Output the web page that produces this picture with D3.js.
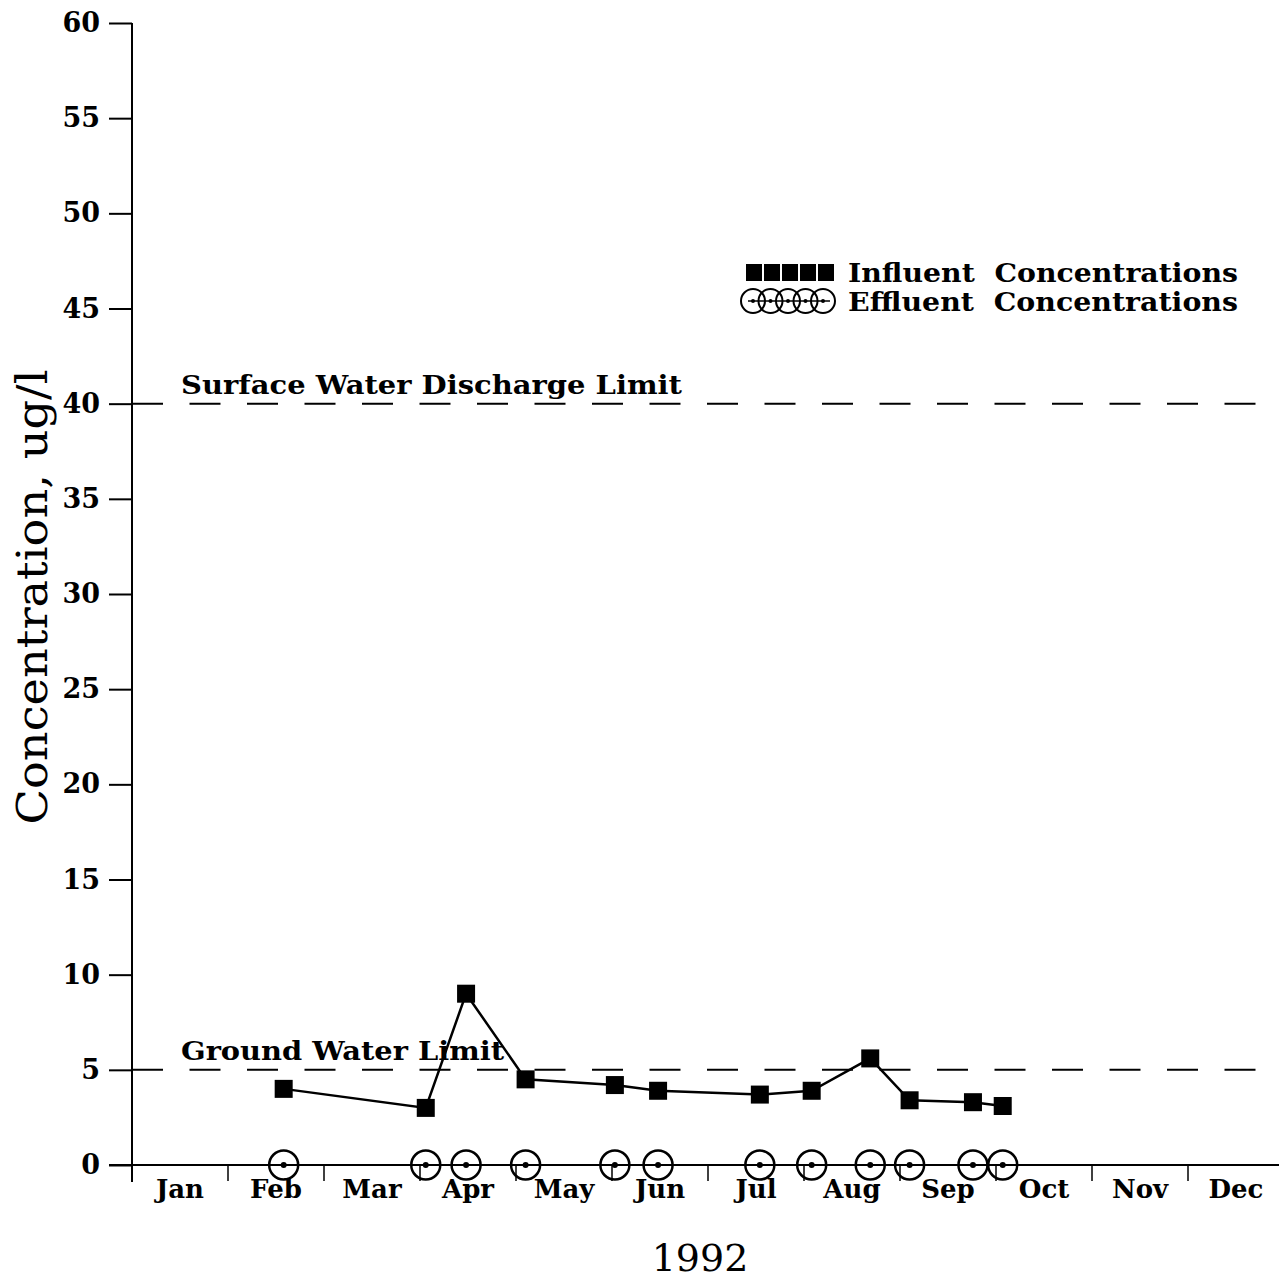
<!DOCTYPE html>
<html>
<head>
<meta charset="utf-8">
<script src="https://cdn.jsdelivr.net/npm/d3@7"></script>
<style>
  body { margin: 0; background: #fff; }
  text { font-family: "DejaVu Serif", serif; fill: #000; }
</style>
</head>
<body>
<div id="chart"></div>
<script>
// month labels and sampling dates (as month index, 0 = Jan 1)
var months = ["Jan","Feb","Mar","Apr","May","Jun","Jul","Aug","Sep","Oct","Nov","Dec"]
var sampleTimes = [1.58, 3.06, 3.48, 4.10, 5.03, 5.48, 6.54, 7.08, 7.69, 8.10, 8.76, 9.07]
var influent = [4.0, 3.0, 9.0, 4.5, 4.2, 3.9, 3.7, 3.9, 5.6, 3.4, 3.3, 3.1]
var effluent = [0, 0, 0, 0, 0, 0, 0, 0, 0, 0, 0, 0]
var yTicks = [0, 5, 10, 15, 20, 25, 30, 35, 40, 45, 50, 55, 60]
var limits = [
  {name: "Surface Water Discharge Limit", value: 40},
  {name: "Ground Water Limit", value: 5}
]

var width = 1279, height = 1283;

var svg = d3.select("#chart")
  .append("svg")
    .attr("width", width)
    .attr("height", height)

var x = d3.scaleLinear().domain([0, 12]).range([132, 1284])
var y = d3.scaleLinear().domain([0, 60]).range([1165, 23])

// y axis
var yAxis = svg.append("g")
  .attr("transform", "translate(132,0)")
  .call(d3.axisLeft(y).tickValues(yTicks).tickSize(23).tickPadding(9))
yAxis.select(".domain").remove()
yAxis.selectAll(".tick line").attr("stroke", "#000").attr("stroke-width", 2)
yAxis.selectAll(".tick text")
  .style("font-family", "DejaVu Serif")
  .attr("font-size", 27)
  .attr("font-weight", "bold")
svg.append("line")
  .attr("x1", 132).attr("x2", 132)
  .attr("y1", y(60)).attr("y2", 1182)
  .attr("stroke", "#000").attr("stroke-width", 2)

// x axis: month boundaries, ticks downward, labels centred in month
svg.append("line")
  .attr("x1", 109).attr("x2", 1279)
  .attr("y1", y(0)).attr("y2", y(0))
  .attr("stroke", "#000").attr("stroke-width", 2)
svg.append("g")
  .selectAll("line")
  .data(d3.range(1, 12))
  .join("line")
    .attr("x1", d => x(d)).attr("x2", d => x(d))
    .attr("y1", y(0)).attr("y2", y(0) + 16)
    .attr("stroke", "#000").attr("stroke-width", 1.5)
svg.append("g")
  .selectAll("text")
  .data(months)
  .join("text")
    .attr("x", (d, i) => x(i + 0.5))
    .attr("y", y(0) + 33)
    .attr("text-anchor", "middle")
    .attr("font-size", 26)
    .attr("font-weight", "bold")
    .text(d => d)

// limit lines
svg.append("g")
  .selectAll("line")
  .data(limits)
  .join("line")
    .attr("x1", 132).attr("x2", 1256)
    .attr("y1", d => y(d.value)).attr("y2", d => y(d.value))
    .attr("stroke", "#000").attr("stroke-width", 2)
    .attr("stroke-dasharray", "31,26.5")
svg.append("g")
  .selectAll("text")
  .data(limits)
  .join("text")
    .attr("x", 181)
    .attr("y", d => y(d.value) - 10)
    .attr("font-size", 26)
    .attr("font-weight", "bold")
    .attr("textLength", d => d.value == 40 ? 501 : 323)
    .attr("lengthAdjust", "spacingAndGlyphs")
    .text(d => d.name)

// influent series
var line = d3.line()
  .x((d, i) => x(sampleTimes[i]))
  .y(d => y(d))
svg.append("path")
  .datum(influent)
  .attr("fill", "none")
  .attr("stroke", "#000")
  .attr("stroke-width", 2.5)
  .attr("d", line)
svg.append("g")
  .selectAll("rect")
  .data(influent)
  .join("rect")
    .attr("x", (d, i) => x(sampleTimes[i]) - 9)
    .attr("y", d => y(d) - 9)
    .attr("width", 18).attr("height", 18)
    .attr("fill", "#000")

// effluent series
var eff = svg.append("g")
  .selectAll("g")
  .data(effluent)
  .join("g")
    .attr("transform", (d, i) => "translate(" + x(sampleTimes[i]) + "," + y(d) + ")")
eff.append("circle")
  .attr("r", 14.5)
  .attr("fill", "none")
  .attr("stroke", "#000")
  .attr("stroke-width", 2.5)
eff.append("circle")
  .attr("r", 3)
  .attr("fill", "#000")

// legend
var leg = svg.append("g")
leg.selectAll("rect")
  .data(d3.range(5))
  .join("rect")
    .attr("x", d => 746 + d * 18)
    .attr("y", 264)
    .attr("width", 16).attr("height", 17)
    .attr("fill", "#000")
leg.append("line")
  .attr("x1", 748).attr("x2", 830)
  .attr("y1", 301).attr("y2", 301)
  .attr("stroke", "#000").attr("stroke-width", 1.5)
leg.selectAll("circle.lc")
  .data(d3.range(5))
  .join("circle")
    .attr("class", "lc")
    .attr("cx", d => 753 + d * 17.5)
    .attr("cy", 301)
    .attr("r", 12)
    .attr("fill", "none")
    .attr("stroke", "#000")
    .attr("stroke-width", 2)
leg.selectAll("circle.ld")
  .data(d3.range(5))
  .join("circle")
    .attr("class", "ld")
    .attr("cx", d => 753 + d * 17.5)
    .attr("cy", 301)
    .attr("r", 2)
    .attr("fill", "#000")
leg.selectAll("text")
  .data(["Influent  Concentrations", "Effluent  Concentrations"])
  .join("text")
    .attr("x", 848)
    .attr("y", (d, i) => 282 + i * 29)
    .attr("font-size", 26)
    .attr("font-weight", "bold")
    .attr("textLength", 390)
    .attr("lengthAdjust", "spacingAndGlyphs")
    .style("white-space", "pre")
    .text(d => d)

// axis titles
svg.append("text")
  .attr("transform", "translate(47,597) rotate(-90)")
  .attr("text-anchor", "middle")
  .attr("font-size", 42)
  .attr("textLength", 455)
  .attr("lengthAdjust", "spacingAndGlyphs")
  .text("Concentration, ug/l")
svg.append("text")
  .attr("x", 700)
  .attr("y", 1271)
  .attr("text-anchor", "middle")
  .attr("font-size", 38)
  .text("1992")
</script>
</body>
</html>
